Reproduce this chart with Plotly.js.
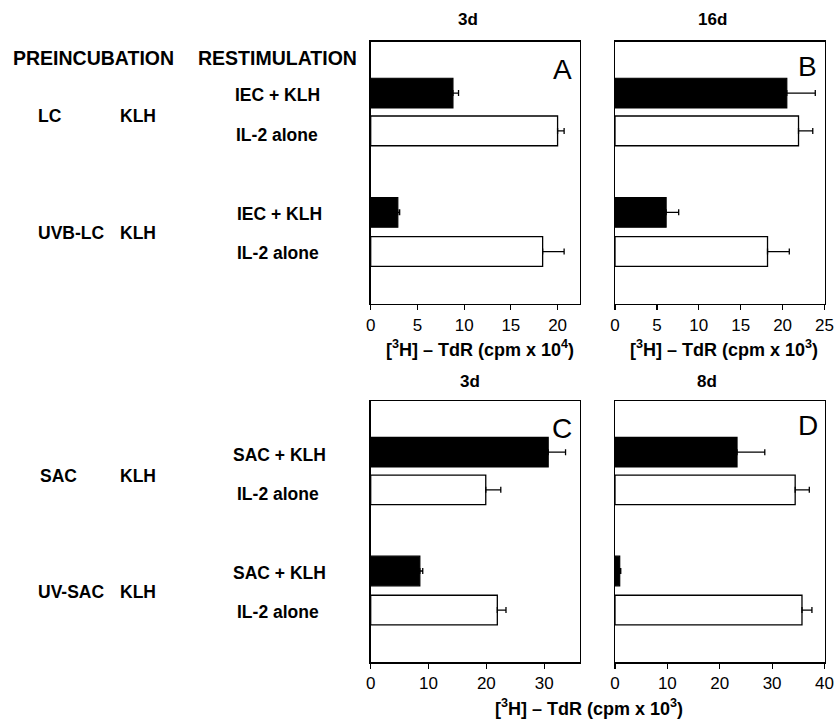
<!DOCTYPE html>
<html>
<head>
<meta charset="utf-8">
<script src="https://cdn.plot.ly/plotly-3.0.1.min.js"></script>
<style>html,body{margin:0;padding:0;background:#fff;}#chart{width:835px;height:719px;}</style>
</head>
<body>
<div id="chart"></div>
<script>
// ---- data ----
// rows within each panel: first group (LC / SAC), second group (UVB-LC / UV-SAC)
const panelTitles = ['3d', '16d', '3d', '8d'];
const panelLetters = ['A', 'B', 'C', 'D'];

// Panel A (3d, cpm x 10^4)
const aAntigen = [8.8, 2.9];
const aAntigenErr = [0.6, 0.2];
const aIL2 = [20.0, 18.4];
const aIL2Err = [0.7, 2.3];

// Panel B (16d, cpm x 10^3)
const bAntigen = [20.5, 6.1];
const bAntigenErr = [3.4, 1.5];
const bIL2 = [21.9, 18.2];
const bIL2Err = [1.7, 2.6];

// Panel C (3d, cpm x 10^3)
const cAntigen = [30.7, 8.5];
const cAntigenErr = [3.0, 0.5];
const cIL2 = [19.9, 21.9];
const cIL2Err = [2.6, 1.5];

// Panel D (8d, cpm x 10^3)
const dAntigen = [23.3, 0.9];
const dAntigenErr = [5.3, 0.2];
const dIL2 = [34.4, 35.7];
const dIL2Err = [2.7, 1.9];

const xRanges = [[0, 22.4], [0, 25], [0, 36.2], [0, 40]];
const xTicks = [5, 5, 10, 10];

// ---- layout helpers ----
const W = 835, H = 719;
const FONT = 'Liberation Sans, Arial, Helvetica, sans-serif';
const antigenRows = [1.47, 4.88];
const il2Rows = [2.55, 6.0];

const panels = [
  [aAntigen, aAntigenErr, aIL2, aIL2Err],
  [bAntigen, bAntigenErr, bIL2, bIL2Err],
  [cAntigen, cAntigenErr, cIL2, cIL2Err],
  [dAntigen, dAntigenErr, dIL2, dIL2Err]
];

const traces = [];
panels.forEach((p, i) => {
  const sfx = i === 0 ? '' : String(i + 1);
  traces.push({
    type: 'bar', orientation: 'h',
    x: p[0], y: antigenRows, width: 0.85,
    xaxis: 'x' + sfx, yaxis: 'y' + sfx,
    marker: {color: '#000', line: {color: '#000', width: 1.2}},
    error_x: {type: 'data', symmetric: false, array: p[1], arrayminus: p[1].map(() => 0),
              color: '#000', thickness: 1.3, width: 3},
    hoverinfo: 'x'
  });
  traces.push({
    type: 'bar', orientation: 'h',
    x: p[2], y: il2Rows, width: 0.85,
    xaxis: 'x' + sfx, yaxis: 'y' + sfx,
    marker: {color: '#fff', line: {color: '#000', width: 1.3}},
    error_x: {type: 'data', symmetric: false, array: p[3], arrayminus: p[3].map(() => 0),
              color: '#000', thickness: 1.3, width: 3},
    hoverinfo: 'x'
  });
});

const colDomains = [[370.7 / W, 580 / W], [615 / W, 824.5 / W]];
const rowDomains = [[1 - 304 / H, 1 - 41.7 / H], [1 - 662.3 / H, 1 - 401 / H]];

const layout = {
  width: W, height: H,
  margin: {l: 0, r: 0, t: 0, b: 0, pad: 0},
  paper_bgcolor: '#fff', plot_bgcolor: '#fff',
  showlegend: false,
  bargap: 0,
  font: {family: FONT, color: '#000'},
  annotations: []
};

for (let i = 0; i < 4; i++) {
  const sfx = i === 0 ? '' : String(i + 1);
  const col = i % 2, row = Math.floor(i / 2);
  layout['xaxis' + sfx] = {
    domain: colDomains[col], anchor: 'y' + sfx,
    range: xRanges[i], dtick: xTicks[i], tick0: 0,
    showline: true, mirror: true, linecolor: '#000', linewidth: 1.4,
    ticks: 'outside', ticklen: 5, tickwidth: 1.2, tickcolor: '#000',
    showgrid: false, zeroline: false,
    tickfont: {family: FONT, size: 17, color: '#000'}
  };
  layout['yaxis' + sfx] = {
    domain: rowDomains[row], anchor: 'x' + sfx,
    range: [7.5, 0],
    showline: true, mirror: true, linecolor: '#000', linewidth: 1.4,
    ticks: '', showticklabels: false, showgrid: false, zeroline: false
  };
}

function ann(text, px, py, size, xanchor) {
  layout.annotations.push({
    text: text, xref: 'paper', yref: 'paper',
    x: px / W, y: 1 - py / H, xanchor: xanchor || 'center', yanchor: 'middle',
    showarrow: false, font: {family: FONT, size: size, color: '#000'}
  });
}

// panel titles
ann('<b>' + panelTitles[0] + '</b>', 468, 19, 17);
ann('<b>' + panelTitles[1] + '</b>', 712, 19, 17);
ann('<b>' + panelTitles[2] + '</b>', 470, 381, 17);
ann('<b>' + panelTitles[3] + '</b>', 707, 381, 17);

// panel letters
ann(panelLetters[0], 562, 69, 28);
ann(panelLetters[1], 807, 67, 28);
ann(panelLetters[2], 562, 428, 28);
ann(panelLetters[3], 808, 426, 28);

// axis titles
ann('<b>[<sup>3</sup>H] – TdR (cpm x 10<sup>4</sup>)</b>', 480, 348, 18);
ann('<b>[<sup>3</sup>H] – TdR (cpm x 10<sup>3</sup>)</b>', 724, 348, 18);
ann('<b>[<sup>3</sup>H] – TdR (cpm x 10<sup>3</sup>)</b>', 589, 707, 18);

// left-side headers and labels
ann('<b>PREINCUBATION</b>', 93, 58, 19.5);
ann('<b>RESTIMULATION</b>', 277, 58, 19.5);

ann('<b>LC</b>', 36, 116, 17.5, 'left');
ann('<b>KLH</b>', 118, 116, 17.5, 'left');
ann('<b>IEC + KLH</b>', 277, 95, 17.5);
ann('<b>IL-2 alone</b>', 277, 135, 17.5);

ann('<b>UVB-LC</b>', 36, 233, 17.5, 'left');
ann('<b>KLH</b>', 118, 233, 17.5, 'left');
ann('<b>IEC + KLH</b>', 279, 214, 17.5);
ann('<b>IL-2 alone</b>', 278, 253, 17.5);

ann('<b>SAC</b>', 38, 476, 17.5, 'left');
ann('<b>KLH</b>', 118, 476, 17.5, 'left');
ann('<b>SAC + KLH</b>', 279, 455, 17.5);
ann('<b>IL-2 alone</b>', 278, 494, 17.5);

ann('<b>UV-SAC</b>', 36, 592, 17.5, 'left');
ann('<b>KLH</b>', 118, 592, 17.5, 'left');
ann('<b>SAC + KLH</b>', 279, 573, 17.5);
ann('<b>IL-2 alone</b>', 278, 612, 17.5);

Plotly.newPlot('chart', traces, layout, {staticPlot: true, displayModeBar: false});
</script>
</body>
</html>
